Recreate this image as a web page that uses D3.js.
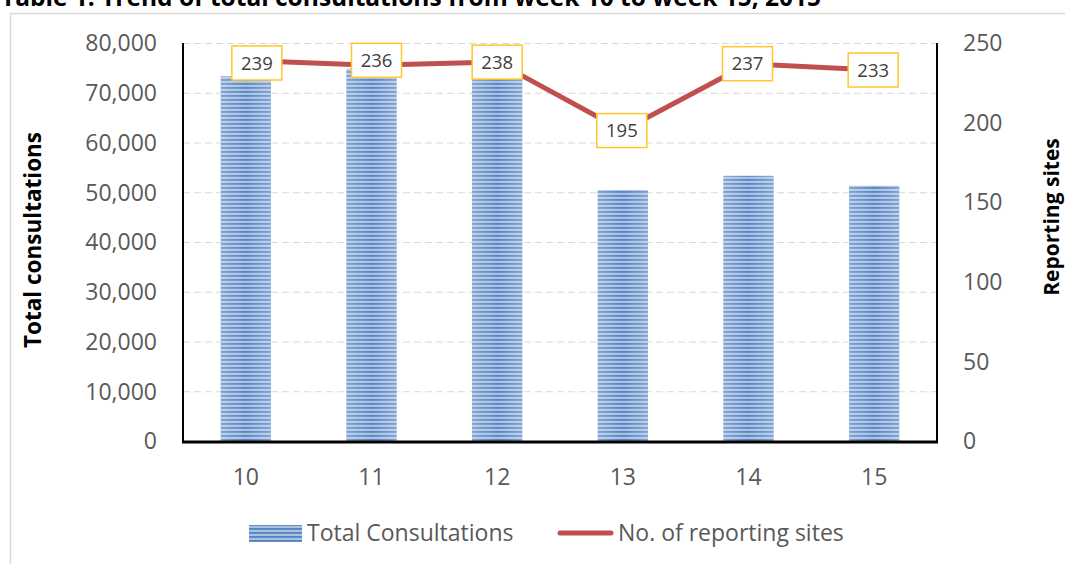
<!DOCTYPE html>
<html>
<head>
<meta charset="utf-8" />
<title>Trend of total consultations</title>
<style>
body { margin: 0; background: #fff; }
svg { display: block; font-family: "Open Sans", sans-serif; }
.grid line { stroke: #d9d9d9; stroke-dasharray: 7,4; stroke-width: 1; }
.tick-label { fill: #595959; font-size: 23px; }
.axis-title { fill: #000; font-weight: bold; font-size: 21px; }
.point-label { fill: #404040; font-size: 18.5px; }
</style>
</head>
<body>
<svg width="1065" height="564"></svg>
<script src="https://d3js.org/d3.v7.min.js"></script>
<script>

// data
var weeks = ["10", "11", "12", "13", "14", "15"];
var consultations = [73300, 74800, 74500, 50450, 53300, 51300];
var sites = [239, 236, 238, 195, 237, 233];
var leftTicks = [0, 10000, 20000, 30000, 40000, 50000, 60000, 70000, 80000];
var rightTicks = [0, 50, 100, 150, 200, 250];
var seriesNames = ["Total Consultations", "No. of reporting sites"];
var titleText = "Table 1: Trend of total consultations from week 10 to week 15, 2015";

var svg = d3.select("svg"),
    margin = {top: 43, left: 183, right: 128, bottom: 123},
    width = +svg.attr("width") - margin.left - margin.right,   // 754
    height = +svg.attr("height") - margin.top - margin.bottom; // 398

var lineColor = "#c0504d";

// the data labels were dragged a little in the original
var labelNudge = [[11, 2.5], [5, -5], [0, 0], [-1, 0], [-1, 0], [-1, 0]];

// bar fill: narrow horizontal stripes
var defs = svg.append("defs");
var pat = defs.append("pattern")
    .attr("id", "stripes")
    .attr("patternUnits", "userSpaceOnUse")
    .attr("width", 8).attr("height", 4);
pat.append("rect").attr("width", 8).attr("height", 4).attr("fill", "#a9c1e4");
pat.append("rect").attr("y", 0).attr("width", 8).attr("height", 1.8).attr("fill", "#5583c0");

var shade = defs.append("linearGradient").attr("id", "shade");
shade.append("stop").attr("offset", "0%").attr("stop-color", "#fff").attr("stop-opacity", 0.25);
shade.append("stop").attr("offset", "50%").attr("stop-color", "#fff").attr("stop-opacity", 0);
shade.append("stop").attr("offset", "100%").attr("stop-color", "#fff").attr("stop-opacity", 0.25);

// chart frame and clipped title
svg.append("rect")
    .attr("x", 10.5).attr("y", 13.5)
    .attr("width", 1200).attr("height", 700)
    .attr("fill", "#fff").attr("stroke", "#d9d9d9").attr("stroke-width", 1.5);

svg.append("text")
    .attr("x", 1).attr("y", 6)
    .attr("font-weight", "bold").attr("font-size", "24.5px").attr("fill", "#000")
    .text(titleText);

var x = d3.scaleBand().domain(weeks).range([0, width]).paddingInner(0.6).paddingOuter(0.3),
    xc = d3.scaleBand().domain(weeks).range([0, width]),
    y = d3.scaleLinear().domain([0, 80000]).range([height, 0]),
    y2 = d3.scaleLinear().domain([0, 250]).range([height, 0]);

var g = svg.append("g")
    .attr("transform", "translate(" + margin.left + "," + margin.top + ")");

// gridlines
g.append("g").attr("class", "grid")
  .selectAll("line")
  .data(leftTicks.slice(1))
  .enter().append("line")
    .attr("x1", 0).attr("x2", width)
    .attr("y1", function(d) { return y(d) + 0.5; })
    .attr("y2", function(d) { return y(d) + 0.5; });

// bars
var bars = g.append("g");
weeks.forEach(function(w, i) {
  bars.append("rect")
      .attr("x", x(w)).attr("y", y(consultations[i]))
      .attr("width", x.bandwidth()).attr("height", height - y(consultations[i]))
      .attr("fill", "url(#stripes)");
  bars.append("rect")
      .attr("x", x(w)).attr("y", y(consultations[i]))
      .attr("width", x.bandwidth()).attr("height", height - y(consultations[i]))
      .attr("fill", "url(#shade)");
});

// axes lines
g.append("line").attr("x1", 0).attr("x2", 0).attr("y1", 0).attr("y2", height + 1)
    .attr("stroke", "#000").attr("stroke-width", 2);
g.append("line").attr("x1", width).attr("x2", width).attr("y1", 0).attr("y2", height + 1)
    .attr("stroke", "#000").attr("stroke-width", 2);
g.append("line").attr("x1", -1).attr("x2", width + 1).attr("y1", height + 1).attr("y2", height + 1)
    .attr("stroke", "#000").attr("stroke-width", 3);

// tick labels
g.selectAll(".ly")
  .data(leftTicks)
  .enter().append("text")
    .attr("class", "tick-label")
    .attr("x", -26).attr("y", function(d) { return y(d); })
    .attr("dy", "0.36em").attr("text-anchor", "end")
    .text(function(d) { return d3.format(",")(d); });

g.selectAll(".ry")
  .data(rightTicks)
  .enter().append("text")
    .attr("class", "tick-label")
    .attr("x", width + 26).attr("y", function(d) { return y2(d); })
    .attr("dy", "0.36em").attr("text-anchor", "start")
    .text(function(d) { return d; });

g.selectAll(".xl")
  .data(weeks)
  .enter().append("text")
    .attr("class", "tick-label")
    .attr("x", function(d) { return xc(d) + xc.bandwidth() / 2; })
    .attr("y", height + 44)
    .attr("text-anchor", "middle")
    .text(function(d) { return d; });

// axis titles
svg.append("text").attr("class", "axis-title")
    .attr("font-size", "22.5px")
    .style("font-size", "22.5px")
    .attr("transform", "translate(41,240) rotate(-90)")
    .attr("text-anchor", "middle")
    .text("Total consultations");
svg.append("text").attr("class", "axis-title")
    .attr("transform", "translate(1059,217) rotate(-90)")
    .attr("text-anchor", "middle")
    .text("Reporting sites");

// line series
var line = d3.line()
    .x(function(d, i) { return xc(weeks[i]) + xc.bandwidth() / 2; })
    .y(function(d) { return y2(d); });

g.append("path")
    .datum(sites)
    .attr("fill", "none")
    .attr("stroke", lineColor)
    .attr("stroke-width", 5)
    .attr("stroke-linejoin", "round")
    .attr("d", line);

// data labels
var lab = g.selectAll(".lab")
  .data(sites)
  .enter().append("g")
    .attr("transform", function(d, i) {
      return "translate(" + (xc(weeks[i]) + xc.bandwidth() / 2 + labelNudge[i][0]) + "," +
        (y2(d) + labelNudge[i][1]) + ")";
    });
lab.append("rect")
    .attr("x", -25).attr("y", -17).attr("width", 50).attr("height", 34)
    .attr("fill", "#fff").attr("stroke", "#ffc72c").attr("stroke-width", 1.5);
lab.append("text")
    .attr("class", "point-label")
    .attr("text-anchor", "middle").attr("dy", "0.36em")
    .text(function(d) { return d; });

// legend
var leg = svg.append("g");
leg.append("rect").attr("x", 249).attr("y", 525).attr("width", 53).attr("height", 17)
    .attr("fill", "url(#stripes)");
leg.append("text").attr("class", "tick-label")
    .attr("x", 307).attr("y", 533).attr("dy", "0.36em")
    .text(seriesNames[0]);
leg.append("line").attr("x1", 560).attr("x2", 611).attr("y1", 533).attr("y2", 533)
    .attr("stroke", lineColor).attr("stroke-width", 5).attr("stroke-linecap", "round");
leg.append("text").attr("class", "tick-label")
    .attr("x", 618).attr("y", 533).attr("dy", "0.36em")
    .text(seriesNames[1]);

</script>
</body>
</html>
